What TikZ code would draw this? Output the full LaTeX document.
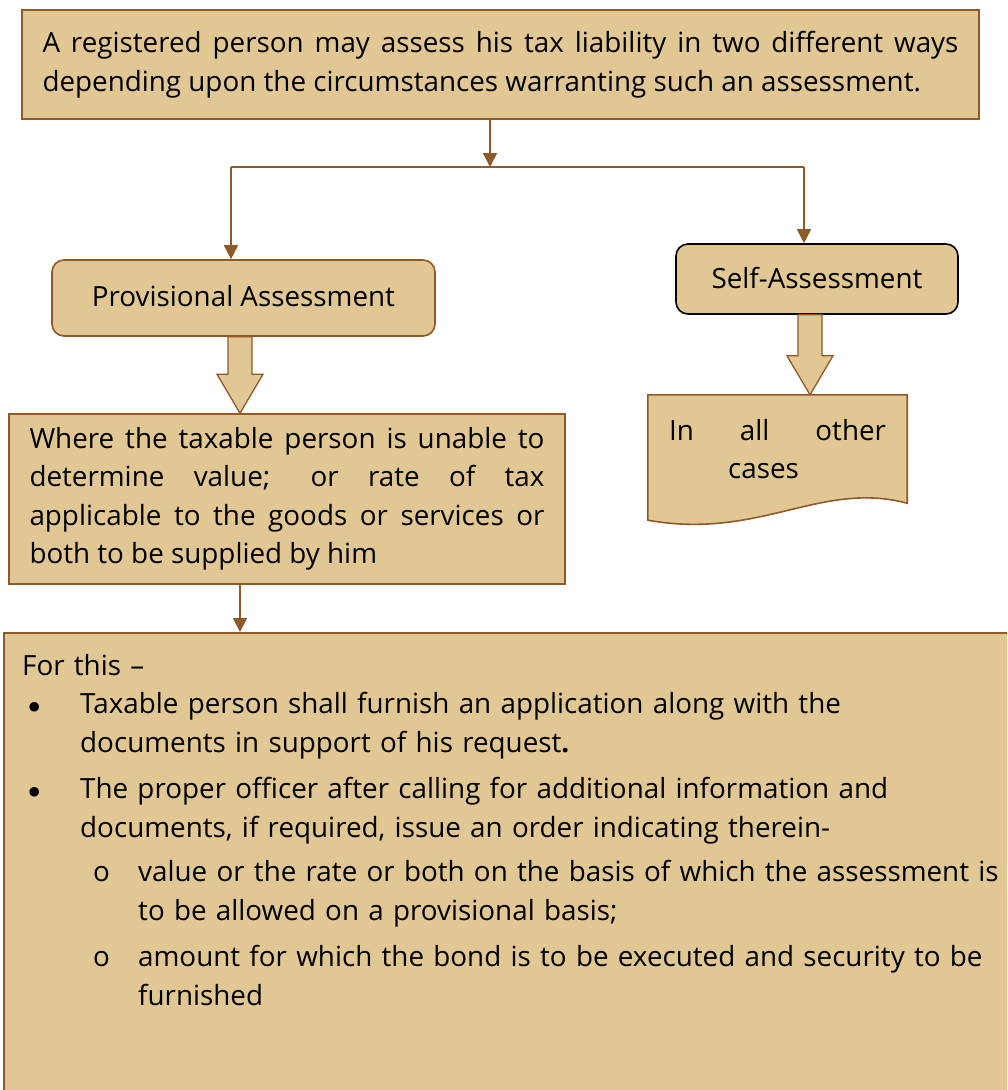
\documentclass[tikz,border=0pt]{standalone}
\usepackage{fontspec}
\setmainfont{Open Sans}
\usetikzlibrary{arrows.meta,calc,backgrounds}

\definecolor{boxfill}{HTML}{E1C794}
\definecolor{boxline}{HTML}{8F5A28}

% block arrow: from the south side of #1 down to the tip at #2
\newcommand\blockarrow[2]{%
  \draw[bigarrow] let \p1=(#1), \p2=(#2) in
    (\x1-12pt,\y1) -- (\x1+12pt,\y1) -- (\x1+12pt,\y2+39pt) -- (\x1+23pt,\y2+39pt)
    -- (\x1,\y2) -- (\x1-23pt,\y2+39pt) -- (\x1-12pt,\y2+39pt) -- cycle;}
\newcommand\dotitem{\makebox[58pt][l]{\hspace*{6pt}$\bullet$}}
\newcommand\circitem{\makebox[116pt][l]{\hspace*{71pt}o}}

\begin{document}
\begin{tikzpicture}[x=1pt,y=-1pt,
    every node/.style={font=\fontsize{27.8}{38.5}\selectfont, inner sep=0pt},
    box/.style={draw=boxline, fill=boxfill, line width=1.6pt},
    rbox/.style={box, rounded corners=12pt},
    link/.style={draw=boxline, line width=1.6pt, -{Triangle[width=14pt,length=14pt]}},
    bigarrow/.style={box, line width=1.3pt, line join=miter}]
    \clip (0,0) rectangle (1007,1090);

    \node[box, minimum width=957pt, minimum height=109pt, text width=916pt, align=justify] (top) at (500.5,64.5)
        {A registered person may assess his tax liability in two different ways\linebreak depending upon the circumstances warranting such an assessment.};
    \node[rbox, minimum width=383pt, minimum height=76pt] (prov) at (243.5,298) {\raisebox{4pt}{Provisional Assessment}};
    \node[rbox, draw=black, minimum width=282pt, minimum height=70pt] (self) at (817,279) {\raisebox{2pt}{Self-Assessment}};
    \node[box, minimum width=556pt, minimum height=170pt, text width=515pt, align=justify] (where) at (287,499)
        {Where the taxable person is unable to\linebreak determine value; or rate of tax\linebreak applicable to the goods or services or\linebreak both to be supplied by him};

    % document shape
    \node[minimum width=259pt, minimum height=108pt, align=center] (other) at (777.5,449)
        {\makebox[217pt][s]{In all other}\\\hspace*{-28pt}cases};
    \begin{scope}[on background layer]
        \draw[box] (other.north west) -- (other.north east) -- (other.south east)
            .. controls +(-87,-23) and +(112,20) .. ($(other.south west)+(0,17)$) -- cycle;
    \end{scope}

    \node[box, minimum width=1020pt, minimum height=470pt, anchor=north west] (detail) at (3,632) {};
    \node[anchor=north west, text width=985pt, align=left] (notes) at (22,654)
        {For this --\\
         \dotitem Taxable person shall furnish an application along with the\\
         \hspace*{58pt}documents in support of his request\textbf{.}\\[8pt]
         \dotitem The proper officer after calling for additional information and\\
         \hspace*{58pt}documents, if required, issue an order indicating therein-\\[6pt]
         \circitem value or the rate or both on the basis of which the assessment is\\
         \hspace*{116pt}to be allowed on a provisional basis;\\[8pt]
         \circitem amount for which the bond is to be executed and security to be\\
         \hspace*{116pt}furnished};

    % connectors
    \coordinate (split) at (490,167);
    \coordinate (jl) at (231,167);
    \coordinate (jr) at (804,167);
    \coordinate (drop) at (240,600);
    \draw[link] (split |- top.south) -- (split);
    \draw[draw=boxline, line width=1.6pt] (jl) -- (jr);
    \draw[link] (jl) -- (jl |- prov.north);
    \draw[link] (jr) -- (jr |- self.north);
    \draw[link] (drop |- where.south) -- (drop |- detail.north);
    \blockarrow{$(prov.south)+(-3.5,0)$}{where.north}
    \blockarrow{$(self.south)+(-7,0)$}{other.north}
\end{tikzpicture}
\end{document}
